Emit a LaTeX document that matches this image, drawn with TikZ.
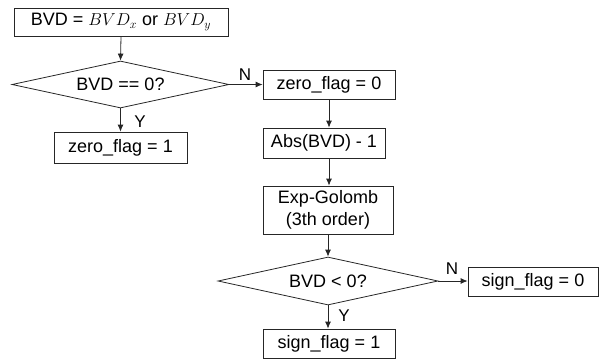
\documentclass[tikz,border=0pt]{standalone}
\usepackage{fontspec}
\setmainfont{Liberation Sans}
\usetikzlibrary{shapes.geometric,arrows.meta}
\begin{document}
\begin{tikzpicture}[x=1pt,y=-1pt,
  box/.style={draw=black!85,line width=0.8pt,rectangle,inner sep=0pt,align=center,font=\fontsize{18}{22}\selectfont},
  dia/.style={draw=black!85,line width=0.8pt,diamond,inner sep=0pt,shape aspect=4.5,font=\fontsize{18}{22}\selectfont},
  lab/.style={font=\fontsize{17}{20}\selectfont,inner sep=0pt},
  arr/.style={draw=black!85,line width=0.8pt,-{Latex[length=7pt,width=6pt]}}]
\useasboundingbox (0,0) rectangle (604,362);
\node[box,minimum width=214pt,minimum height=28pt] (top) at (121,22) {BVD = $BVD_x$ or $BVD_y$};
\node[dia,minimum width=217pt,minimum height=47pt] (d1) at (120.5,84.5) {BVD == 0?};
\node[box,minimum width=133pt,minimum height=31pt] (zf1) at (120.5,147.5) {zero\_flag = 1};
\node[box,minimum width=132pt,minimum height=29pt] (zf0) at (329,84.5) {zero\_flag = 0};
\node[box,minimum width=122pt,minimum height=30pt] (abs) at (324,143) {Abs(BVD) - 1};
\node[box,minimum width=130pt,minimum height=48pt] (exp) at (328,210) {Exp-Golomb\\(3th order)};
\node[dia,minimum width=220pt,minimum height=48pt] (d2) at (328,281) {BVD < 0?};
\node[box,minimum width=130pt,minimum height=29pt] (sf0) at (533,281.5) {sign\_flag = 0};
\node[box,minimum width=132pt,minimum height=29pt] (sf1) at (329,343.5) {sign\_flag = 1};
\draw[arr] (top.south) -- (d1.north);
\draw[arr] (d1.south) -- (zf1.north);
\draw[arr] (d1.east) -- (zf0.west);
\draw[arr] (zf0.south) -- (zf0.south |- abs.north);
\draw[arr] (abs.south -| zf0.south) -- (zf0.south |- exp.north);
\draw[arr] (exp.south) -- (d2.north);
\draw[arr] (d2.east) -- (sf0.west |- d2.east);
\draw[arr] (d2.south) -- (d2.south |- sf1.north);
\node[lab] (n1) at (245,75) {N};
\node[lab] (y1) at (140,122) {Y};
\node[lab] (n2) at (452,269) {N};
\node[lab] (y2) at (344,316) {Y};
\end{tikzpicture}
\end{document}
